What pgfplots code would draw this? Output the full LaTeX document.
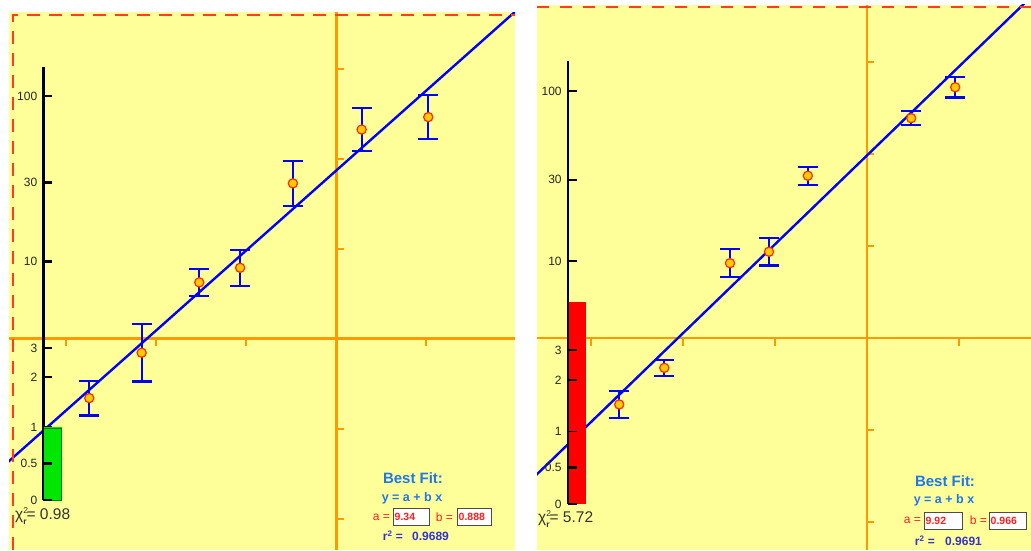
\documentclass[border=0pt]{standalone}
\usepackage{fontspec}
\setmainfont{Liberation Sans}
\usepackage{pgfplots}
\usepackage{pgfplotstable}
\pgfplotsset{compat=1.18}

\definecolor{bgyellow}{RGB}{255,255,153}
\definecolor{axorange}{RGB}{255,153,0}
\definecolor{fitblue}{RGB}{0,0,255}
\definecolor{ptfill}{RGB}{255,204,0}
\definecolor{ptedge}{RGB}{255,40,0}
\definecolor{dashred}{RGB}{255,60,40}
\definecolor{labblue}{RGB}{30,120,235}
\definecolor{rblue}{RGB}{50,50,210}
\definecolor{abred}{RGB}{255,30,30}
\definecolor{chigreen}{RGB}{0,230,0}
\definecolor{chired}{RGB}{255,0,0}
\definecolor{chitext}{RGB}{50,50,50}

% points in units of the orange axes (5 units per tick): x, y, error
\pgfplotstableread{
x y e
-13.73 -3.31 0.97
-10.82 -0.79 1.60
-7.62 3.12 0.75
-5.35 3.93 1.00
-2.42 8.62 1.25
1.40 11.61 1.18
5.10 12.30 1.23
}\leftdata
\pgfplotstableread{
x y e
-13.45 -3.60 0.75
-11.00 -1.61 0.44
-7.43 4.08 0.75
-5.31 4.70 0.75
-3.20 8.83 0.49
2.42 11.96 0.37
4.81 13.64 0.56
}\rightdata

\pgfplotsset{
  panel/.style={scale only axis, anchor=south west,
    axis lines=middle,
    inner axis line style={-, draw=axorange, line width=2.3pt},
    axis background/.style={fill=bgyellow},
    xtick={-15,-10,-5,5,10}, ytick={-10,-5,5,10,15},
    xticklabels=\empty, yticklabels=\empty,
    major tick length=7.5pt, tick align=center,
    every tick/.style={draw=axorange, line width=2pt},
    xtick style={yshift=-3.7pt}, ytick style={xshift=3.7pt}},
  datapts/.style={only marks, mark=*, mark size=4.6pt,
    mark options={fill=ptfill, draw=ptedge, line width=1.2pt},
    error bars/.cd, y dir=both, y explicit,
    error bar style={draw=fitblue, line width=2.1pt},
    error mark options={rotate=90, mark size=10pt, draw=fitblue, line width=2.1pt}},
  fitline/.style={draw=fitblue, line width=2.4pt, no marks},
  gauge/.style={scale only axis, anchor=south west, width=30pt,
    xmin=0, xmax=1, axis x line=none, axis y line*=left, axis on top,
    y axis line style={-, black, line width=2.4pt},
    major tick length=9pt, tick align=inside,
    every tick/.style={black, line width=2.5pt},
    yticklabel style={font=\fontsize{12}{14}\selectfont, text=black!85, xshift=-2.5pt},
    ybar, bar width=18pt},
}

\newcommand{\chired}{χ\rlap{\raisebox{0.75ex}{\fontsize{8.5}{9}\selectfont 2}}\raisebox{-0.6ex}{\fontsize{8.5}{9}\selectfont\bfseries r}}

\begin{document}
\begin{tikzpicture}
\useasboundingbox (0pt,0pt) rectangle (1031pt,550pt);

% ---------- left panel ----------
\begin{axis}[panel, at={(9pt,0pt)}, width=506pt, height=538pt,
  xmin=-18.19, xmax=9.92, ymin=-11.75, ymax=18.14]
  \addplot[fitline] coordinates {(-20,-8.42) (12,20.0)};
  \addplot[datapts] table[x=x, y=y, y error=e] {\leftdata};
\end{axis}

% chi^2 gauge, linear part 0..1
\begin{axis}[gauge, at={(43.3pt,50pt)}, height=73pt, ymin=0, ymax=1,
  ytick={0,0.5,1}, yticklabels={0,0.5,1}]
  \addplot[fill=chigreen, draw=green!50!black, line width=0.6pt, bar shift=9.5pt] coordinates {(0,0.98)};
\end{axis}
% log part 1..150
\begin{axis}[gauge, at={(43.3pt,123pt)}, height=360pt, ymode=log, ymin=1, ymax=150,
  ytick={2,3,10,30,100}, yticklabels={2,3,10,30,100}]
  \addplot[fill=chigreen, draw=none, bar shift=9.5pt] coordinates {(0,0.98)};
\end{axis}

% ---------- right panel ----------
\begin{axis}[panel, at={(537pt,0pt)}, width=494pt, height=545pt,
  xmin=-17.92, xmax=8.93, ymin=-11.51, ymax=18.11]
  \addplot[fitline] coordinates {(-20,-9.40) (12,21.51)};
  \addplot[datapts] table[x=x, y=y, y error=e] {\rightdata};
\end{axis}

\begin{axis}[gauge, at={(567.7pt,46pt)}, height=73pt, ymin=0, ymax=1,
  ytick={0,0.5,1}, yticklabels={0,0.5,1}]
  \addplot[fill=chired, draw=none, bar shift=9.5pt] coordinates {(0,5.72)};
\end{axis}
\begin{axis}[gauge, at={(567.7pt,119pt)}, height=370pt, ymode=log, ymin=1, ymax=150,
  ytick={2,3,10,30,100}, yticklabels={2,3,10,30,100}]
  \addplot[fill=chired, draw=none, bar shift=9.5pt] coordinates {(0,5.72)};
\end{axis}

% dashed borders
\draw[dashred, line width=2pt, dash pattern=on 13pt off 9pt] (12.7pt,0pt) -- (12.7pt,535.3pt) -- (515pt,535.3pt);
\draw[dashred, line width=2pt, dash pattern=on 12pt off 11pt] (537pt,543.3pt) -- (1031pt,543.3pt);

% chi^2 read-outs
\node[anchor=west, text=chitext, font=\fontsize{15.5}{17}\selectfont, inner sep=0pt] at (15pt,34pt) {\chired= 0.98};
\node[anchor=west, text=chitext, font=\fontsize{15.5}{17}\selectfont, inner sep=0pt] at (538pt,31pt) {\chired= 5.72};

% best-fit boxes, left
\node[text=labblue, font=\bfseries\fontsize{15}{17}\selectfont] at (413pt,72pt) {Best Fit:};
\node[text=labblue, font=\bfseries\fontsize{12.5}{14}\selectfont] at (412pt,52pt) {y = a + b x};
\node[anchor=east, text=abred, font=\fontsize{12}{14}\selectfont, inner sep=0pt] at (390pt,33pt) {a =};
\draw[fill=white, draw=black!70, line width=1pt] (393pt,25pt) rectangle (429pt,42pt);
\node[anchor=west, text=abred, font=\bfseries\fontsize{10.5}{12}\selectfont, inner sep=0pt] at (394.5pt,33.5pt) {9.34};
\node[anchor=east, text=abred, font=\fontsize{12}{14}\selectfont, inner sep=0pt] at (453pt,33pt) {b =};
\draw[fill=white, draw=black!70, line width=1pt] (457pt,25pt) rectangle (491pt,42pt);
\node[anchor=west, text=abred, font=\bfseries\fontsize{10.5}{12}\selectfont, inner sep=0pt] at (458.5pt,33.5pt) {0.888};
\node[anchor=east, text=rblue, font=\bfseries\fontsize{12}{14}\selectfont, inner sep=0pt] at (403pt,14pt) {r\textsuperscript{2} =};
\node[anchor=west, text=rblue, font=\bfseries\fontsize{12}{14}\selectfont, inner sep=0pt] at (412pt,14pt) {0.9689};

% best-fit boxes, right
\node[text=labblue, font=\bfseries\fontsize{15}{17}\selectfont] at (945pt,69pt) {Best Fit:};
\node[text=labblue, font=\bfseries\fontsize{12.5}{14}\selectfont] at (944pt,50pt) {y = a + b x};
\node[anchor=east, text=abred, font=\fontsize{12}{14}\selectfont, inner sep=0pt] at (921pt,29.5pt) {a =};
\draw[fill=white, draw=black!70, line width=1pt] (924pt,21pt) rectangle (962pt,38pt);
\node[anchor=west, text=abred, font=\bfseries\fontsize{10.5}{12}\selectfont, inner sep=0pt] at (925.5pt,29.5pt) {9.92};
\node[anchor=east, text=abred, font=\fontsize{12}{14}\selectfont, inner sep=0pt] at (987pt,29.5pt) {b =};
\draw[fill=white, draw=black!70, line width=1pt] (989pt,21pt) rectangle (1026pt,38pt);
\node[anchor=west, text=abred, font=\bfseries\fontsize{10.5}{12}\selectfont, inner sep=0pt] at (990.5pt,29.5pt) {0.966};
\node[anchor=east, text=rblue, font=\bfseries\fontsize{12}{14}\selectfont, inner sep=0pt] at (935pt,9pt) {r\textsuperscript{2} =};
\node[anchor=west, text=rblue, font=\bfseries\fontsize{12}{14}\selectfont, inner sep=0pt] at (945pt,9pt) {0.9691};
\end{tikzpicture}
\end{document}
